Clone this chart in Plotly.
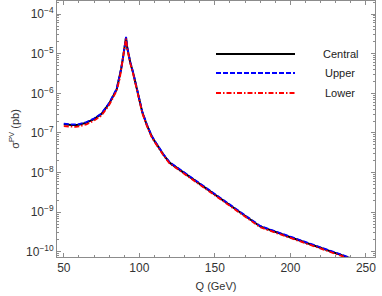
import plotly.graph_objects as go

Q = [50, 52, 55, 58, 60, 65, 70, 75, 80, 85, 87, 88, 89, 90, 91.2, 92, 93, 94, 96, 98,
     100, 102, 105, 108, 110, 113, 116, 120, 150, 180, 200, 250]

central = [1.66e-7, 1.62e-7, 1.58e-7, 1.58e-7, 1.62e-7, 1.82e-7, 2.24e-7, 3.02e-7, 5.50e-7,
           1.26e-6, 2.51e-6, 4.17e-6, 7.08e-6, 1.26e-5, 2.57e-5, 1.41e-5, 8.91e-6, 6.03e-6,
           3.16e-6, 1.41e-6, 6.31e-7, 3.31e-7, 1.58e-7, 8.51e-8, 6.31e-8, 4.17e-8, 2.82e-8,
           1.78e-8, 2.75e-9, 4.37e-10, 2.34e-10, 5.01e-11]

upper = [1.72e-7, 1.68e-7, 1.64e-7, 1.64e-7, 1.68e-7, 1.89e-7, 2.32e-7, 3.12e-7, 5.68e-7,
         1.30e-6, 2.59e-6, 4.30e-6, 7.30e-6, 1.30e-5, 2.66e-5, 1.46e-5, 9.20e-6, 6.22e-6,
         3.26e-6, 1.46e-6, 6.52e-7, 3.42e-7, 1.63e-7, 8.78e-8, 6.51e-8, 4.30e-8, 2.91e-8,
         1.84e-8, 2.84e-9, 4.51e-10, 2.41e-10, 5.16e-11]

lower = [1.48e-7, 1.45e-7, 1.42e-7, 1.42e-7, 1.46e-7, 1.65e-7, 2.04e-7, 2.76e-7, 5.05e-7,
         1.16e-6, 2.33e-6, 3.88e-6, 6.60e-6, 1.18e-5, 2.42e-5, 1.33e-5, 8.40e-6, 5.69e-6,
         2.99e-6, 1.34e-6, 6.00e-7, 3.15e-7, 1.51e-7, 8.12e-8, 6.03e-8, 3.99e-8, 2.70e-8,
         1.70e-8, 2.62e-9, 4.17e-10, 2.24e-10, 4.79e-11]

series_names = ["Central", "Upper", "Lower"]
x_ticks = [50, 100, 150, 200, 250]
y_tickvals = [1e-4, 1e-5, 1e-6, 1e-7, 1e-8, 1e-9, 1e-10]
y_ticktext = ["10<sup>\u22124</sup>", "10<sup>\u22125</sup>", "10<sup>\u22126</sup>",
              "10<sup>\u22127</sup>", "10<sup>\u22128</sup>", "10<sup>\u22129</sup>",
              "10<sup>\u221210</sup>"]

styles = [
    dict(color="black", width=2, dash="solid"),
    dict(color="#0000ff", width=1.8, dash="5px,2px"),
    dict(color="#ff0000", width=1.8, dash="5px,2px,1.5px,2px"),
]

fig = go.Figure()
for name, ys, st in zip(series_names, [central, upper, lower], styles):
    fig.add_trace(go.Scatter(x=Q, y=ys, mode="lines", name=name, line=st,
                             showlegend=False, cliponaxis=True))

L, R, T, B = 57, 7, 1, 39
W, H = 382, 296
pw = W - L - R
ph = H - T - B

# manual legend
legend_y = [54, 73, 93]
for name, st, yy in zip(series_names, styles, legend_y):
    yp = 1 - (yy - T) / ph
    fig.add_shape(type="line", xref="paper", yref="paper",
                  x0=(216 - L) / pw, x1=(295 - L) / pw, y0=yp, y1=yp,
                  line=st)
    fig.add_annotation(xref="paper", yref="paper", x=(340 - L) / pw, y=yp,
                       text=name, showarrow=False, xanchor="center", yanchor="middle",
                       font=dict(size=11, color="#222"))

axis_common = dict(
    showline=True, linecolor="#8c8c8c", linewidth=1, mirror="allticks",
    ticks="inside", tickcolor="#8c8c8c", ticklen=4, showgrid=False, zeroline=False,
    tickfont=dict(size=12, color="#333"), automargin=False,
)

fig.update_xaxes(
    range=[45.5, 256], tickvals=x_ticks,
    minor=dict(ticks="inside", ticklen=2, dtick=10, tick0=50, tickcolor="#8c8c8c", showgrid=False),
    title=dict(text="Q (GeV)", font=dict(size=11, color="#333"), standoff=7),
    **axis_common,
)
fig.update_yaxes(
    type="log", range=[-10.13, -3.67], tickvals=y_tickvals, ticktext=y_ticktext,
    minor=dict(ticks="inside", ticklen=2, dtick="D1", tickcolor="#8c8c8c", showgrid=False),
    title=dict(text="\u03c3<sup>PV</sup> (pb)", font=dict(size=11, color="#333"), standoff=4),
    **axis_common,
)

fig.update_layout(
    width=W, height=H,
    margin=dict(l=L, r=R, t=T, b=B),
    plot_bgcolor="white", paper_bgcolor="white",
    font=dict(family="Liberation Sans, Arial, sans-serif", color="#333"),
)

fig.write_html("out.html", config={"displayModeBar": False},
               post_script="document.body.style.margin='0';document.body.style.overflow='hidden';")
